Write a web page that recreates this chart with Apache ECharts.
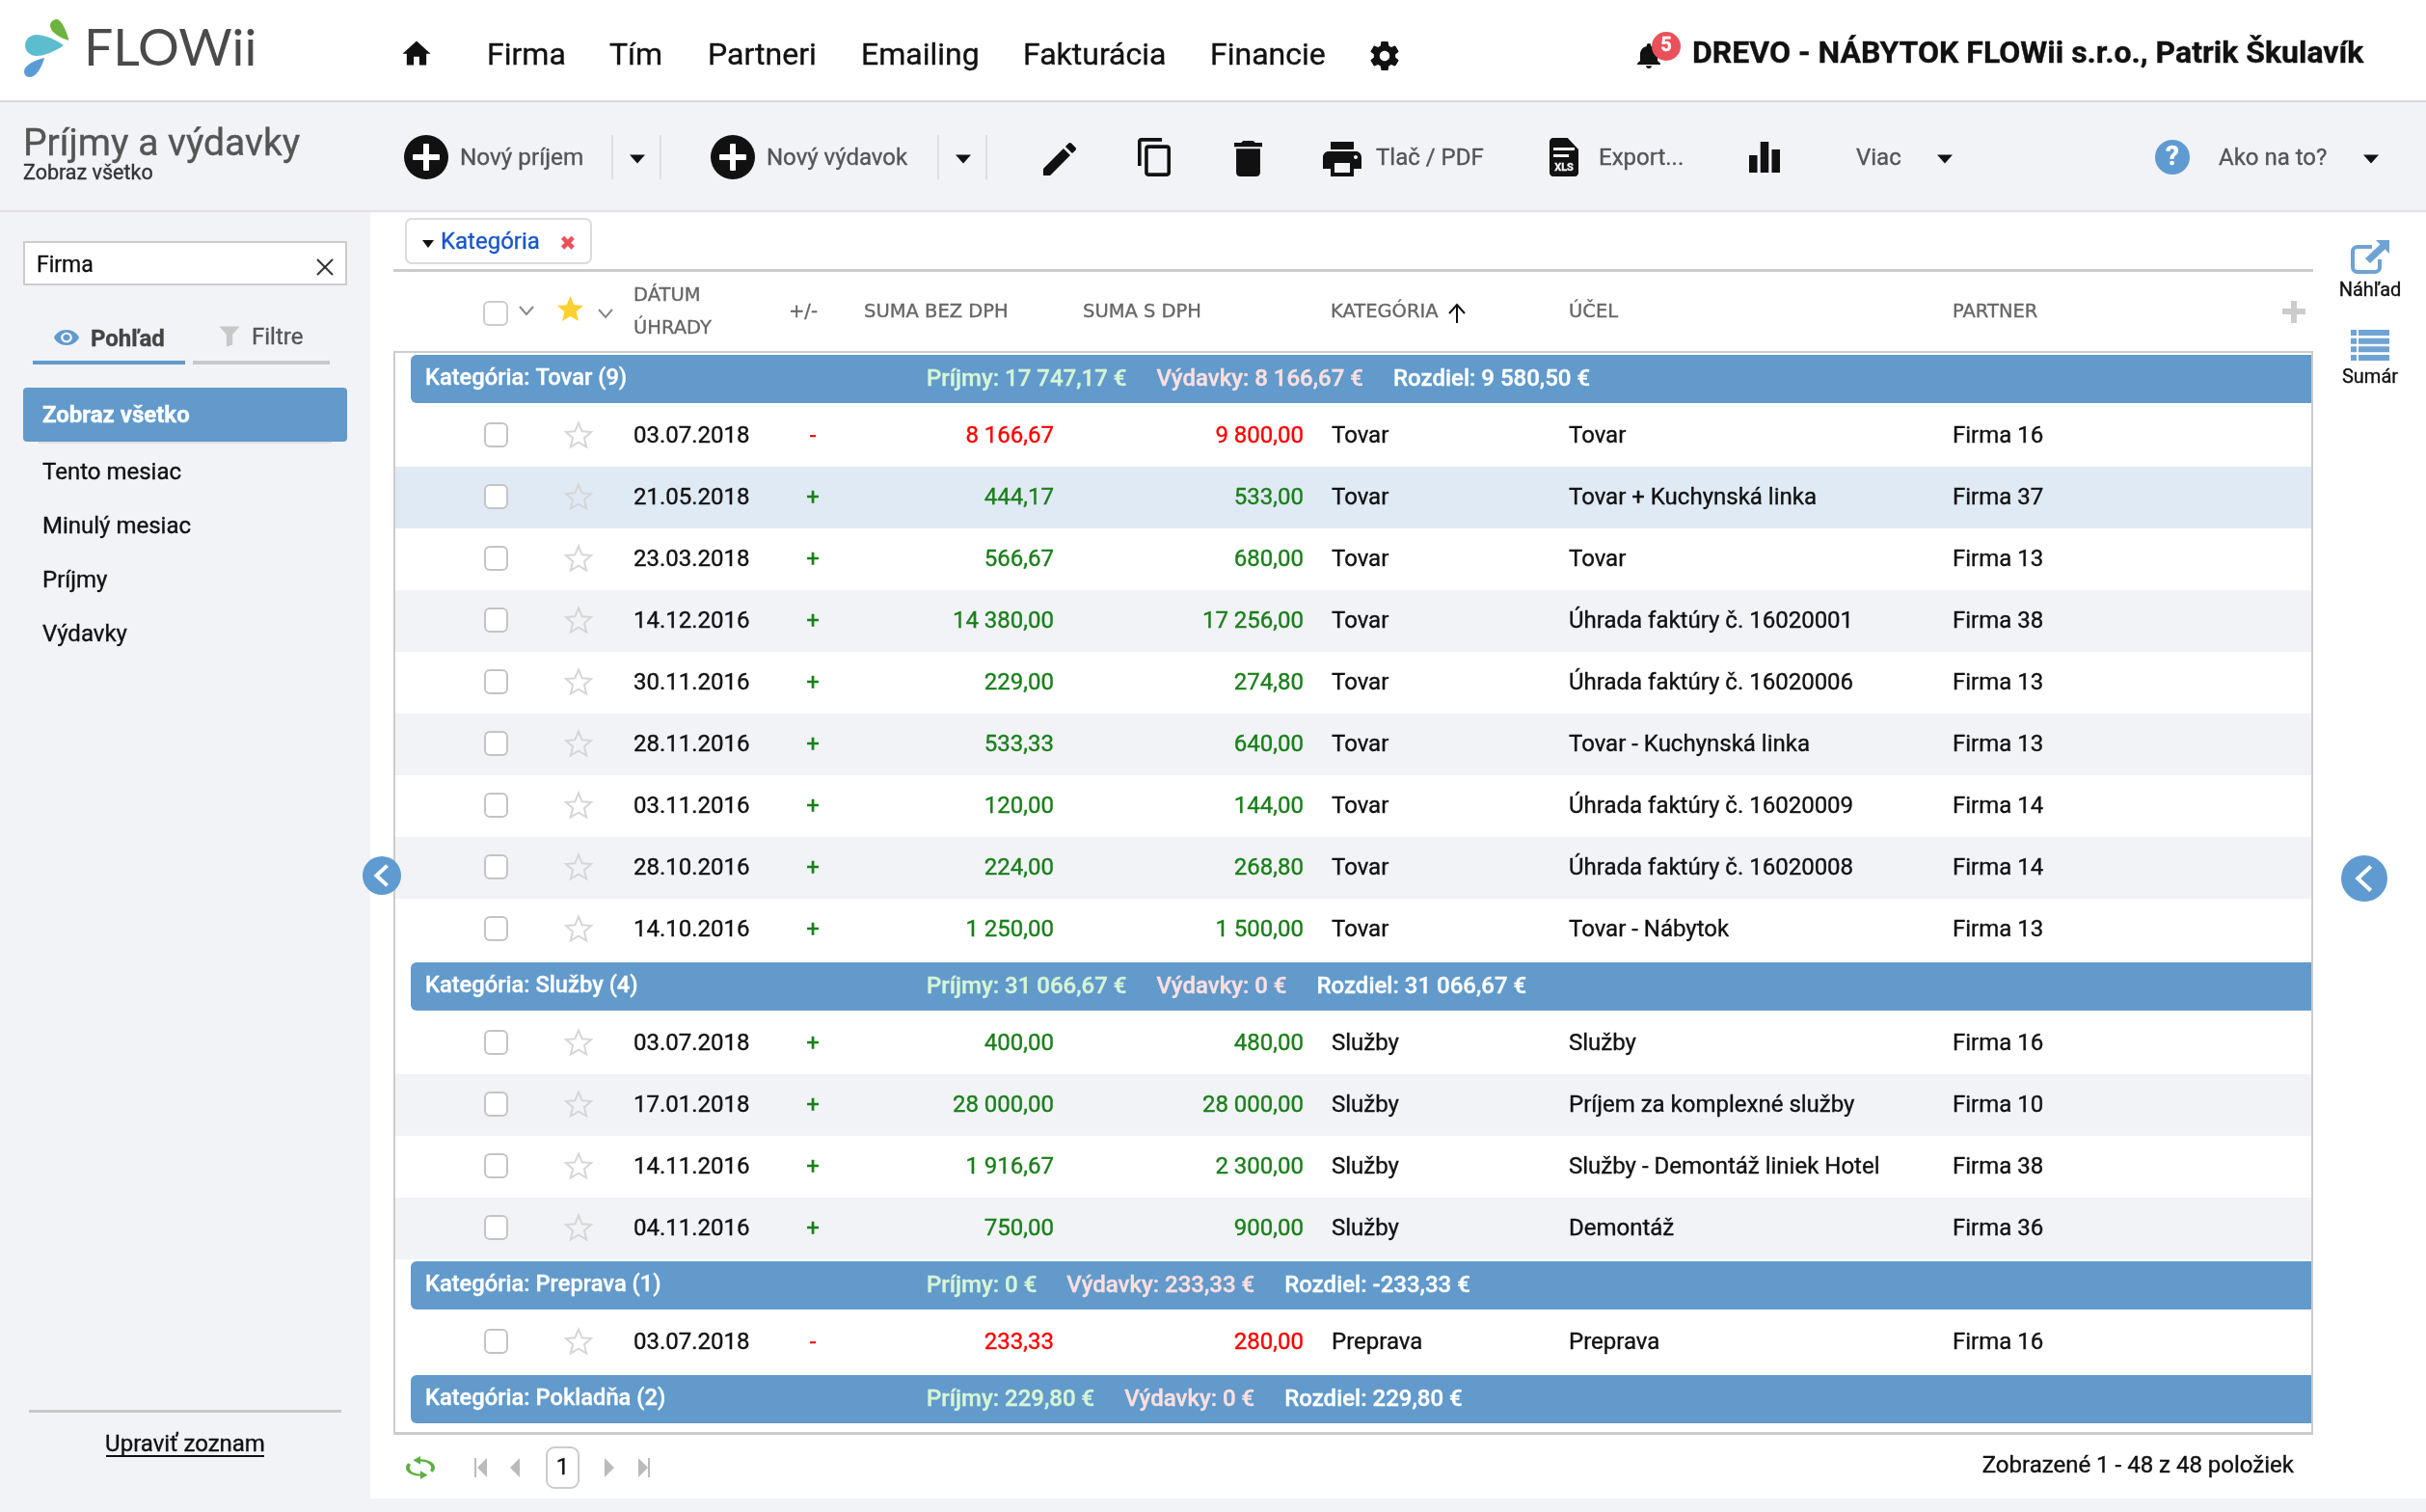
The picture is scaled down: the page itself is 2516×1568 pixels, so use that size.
<!DOCTYPE html>
<html>
<head>
<meta charset="utf-8">
<title>Príjmy a výdavky</title>
<script src="https://cdn.jsdelivr.net/npm/echarts@6/dist/echarts.min.js"></script>
<style>
    html, body { margin: 0; padding: 0; background: #fff; }
    #main { width: 2516px; height: 1568px; }
</style>
</head>
<body>
<div id="main"></div>
<script>
// table data
const groupNames = ['Tovar', 'Služby', 'Preprava', 'Pokladňa'];
const groupCounts = [9, 4, 1, 2];
const groupShown = [9, 4, 1, 0];
const groupIncome = ['17 747,17 €', '31 066,67 €', '0 €', '229,80 €'];
const groupExpense = ['8 166,67 €', '0 €', '233,33 €', '0 €'];
const groupDiff = ['9 580,50 €', '31 066,67 €', '-233,33 €', '229,80 €'];

const dates = ['03.07.2018', '21.05.2018', '23.03.2018', '14.12.2016', '30.11.2016', '28.11.2016', '03.11.2016', '28.10.2016', '14.10.2016',
    '03.07.2018', '17.01.2018', '14.11.2016', '04.11.2016',
    '03.07.2018'];
const signs = ['-', '+', '+', '+', '+', '+', '+', '+', '+', '+', '+', '+', '+', '-'];
const netSums = ['8 166,67', '444,17', '566,67', '14 380,00', '229,00', '533,33', '120,00', '224,00', '1 250,00',
    '400,00', '28 000,00', '1 916,67', '750,00',
    '233,33'];
const grossSums = ['9 800,00', '533,00', '680,00', '17 256,00', '274,80', '640,00', '144,00', '268,80', '1 500,00',
    '480,00', '28 000,00', '2 300,00', '900,00',
    '280,00'];
const categories = ['Tovar', 'Tovar', 'Tovar', 'Tovar', 'Tovar', 'Tovar', 'Tovar', 'Tovar', 'Tovar',
    'Služby', 'Služby', 'Služby', 'Služby',
    'Preprava'];
const purposes = ['Tovar', 'Tovar + Kuchynská linka', 'Tovar', 'Úhrada faktúry č. 16020001', 'Úhrada faktúry č. 16020006', 'Tovar - Kuchynská linka', 'Úhrada faktúry č. 16020009', 'Úhrada faktúry č. 16020008', 'Tovar - Nábytok',
    'Služby', 'Príjem za komplexné služby', 'Služby - Demontáž liniek Hotel', 'Demontáž',
    'Preprava'];
const partners = ['Firma 16', 'Firma 37', 'Firma 13', 'Firma 38', 'Firma 13', 'Firma 13', 'Firma 14', 'Firma 14', 'Firma 13',
    'Firma 16', 'Firma 10', 'Firma 38', 'Firma 36',
    'Firma 16'];
const hoverRow = 1;

const navItems = ['Firma', 'Tím', 'Partneri', 'Emailing', 'Fakturácia', 'Financie'];
const navX = [505, 632, 734, 893, 1061, 1255];
const sideItems = ['Tento mesiac', 'Minulý mesiac', 'Príjmy', 'Výdavky'];

const BLUE = '#619ACB';
const GREY_BG = '#F1F3F7';
const LINE = '#CCCCCC';
const GREEN = '#197F19';
const RED = '#FF0000';
const ROW_H = 64;
const HEAD_H = 50;
const TEXT_DY = 4;
const TEXT_WEIGHT = 0.35; // the reference text is smoothed a bit heavier

const P = {
    home: 'M10 20v-6h4v6h5v-8h3L12 3 2 12h3v8z',
    gear: 'M19.43 12.98c.04-.32.07-.64.07-.98s-.03-.66-.07-.98l2.11-1.65c.19-.15.24-.42.12-.64l-2-3.46c-.12-.22-.39-.3-.61-.22l-2.49 1c-.52-.4-1.08-.73-1.69-.98l-.38-2.65C14.46 2.18 14.25 2 14 2h-4c-.25 0-.46.18-.49.42l-.38 2.65c-.61.25-1.17.59-1.69.98l-2.49-1c-.23-.09-.49 0-.61.22l-2 3.46c-.13.22-.07.49.12.64l2.11 1.65c-.04.32-.07.65-.07.98s.03.66.07.98l-2.11 1.65c-.19.15-.24.42-.12.64l2 3.46c.12.22.39.3.61.22l2.49-1c.52.4 1.08.73 1.69.98l.38 2.65c.03.24.24.42.49.42h4c.25 0 .46-.18.49-.42l.38-2.65c.61-.25 1.17-.59 1.69-.98l2.49 1c.23.09.49 0 .61-.22l2-3.46c.12-.22.07-.49-.12-.64l-2.11-1.65zM12 15.5c-1.93 0-3.5-1.57-3.5-3.5s1.57-3.5 3.5-3.5 3.5 1.57 3.5 3.5-1.57 3.5-3.5 3.5z',
    pencil: 'M3 17.25V21h3.75L17.81 9.94l-3.75-3.75L3 17.25zM20.71 7.04c.39-.39.39-1.02 0-1.41l-2.34-2.34c-.39-.39-1.02-.39-1.41 0l-1.83 1.83 3.75 3.75 1.83-1.83z',
    copy: 'M16 1H4c-1.1 0-2 .9-2 2v14h2V3h12V1zm3 4H8c-1.1 0-2 .9-2 2v14c0 1.1.9 2 2 2h11c1.1 0 2-.9 2-2V7c0-1.1-.9-2-2-2zm0 16H8V7h11v14z',
    trash: 'M6 19c0 1.1.9 2 2 2h8c1.1 0 2-.9 2-2V7H6v12zM19 4h-3.5l-1-1h-5l-1 1H5v2h14V4z',
    print: 'M19 8H5c-1.66 0-3 1.34-3 3v6h4v4h12v-4h4v-6c0-1.66-1.34-3-3-3zm-3 11H8v-5h8v5zm3-7c-.55 0-1-.45-1-1s.45-1 1-1 1 .45 1 1-.45 1-1 1zm-1-9H6v4h12V3z',
    bars: 'M5 10h4v9H5zM10.500 3h4v16h-4zM16 7h4v12h-4z',
    bell: 'M12 22c1.1 0 2-.9 2-2h-4c0 1.1.9 2 2 2zm6-6v-5c0-3.07-1.64-5.64-4.5-6.32V4c0-.83-.67-1.5-1.5-1.5s-1.5.67-1.5 1.5v.68C7.63 5.36 6 7.92 6 11v5l-2 2v1h16v-1l-2-2z',
    star: 'M12 2l3 7 7.500.6-5.700 4.900 1.800 7.400L12 18l-6.600 3.900 1.800-7.400L1.500 9.600 9 9z',
    eye: 'M12 4.500C7 4.500 2.730 7.610 1 12c1.730 4.390 6 7.500 11 7.500s9.270-3.110 11-7.500c-1.730-4.390-6-7.500-11-7.500zM12 17c-2.760 0-5-2.240-5-5s2.240-5 5-5 5 2.240 5 5-2.240 5-5 5zm0-8c-1.660 0-3 1.340-3 3s1.340 3 3 3 3-1.340 3-3-1.340-3-3-3z',
    funnel: 'M2 3h20l-7 8v10l-6 2V11z',
    sync: 'M12 4V1L8 5l4 4V6c3.310 0 6 2.690 6 6 0 1.010-.250 1.970-.700 2.800l1.460 1.460C19.540 15.030 20 13.570 20 12c0-4.420-3.580-8-8-8zm0 14c-3.310 0-6-2.690-6-6 0-1.010.250-1.970.700-2.800L5.240 7.740C4.460 8.970 4 10.430 4 12c0 4.420 3.580 8 8 8v3l4-4-4-4v3z',
    file: 'M14 2H6c-1.100 0-2 .900-2 2v16c0 1.100.900 2 2 2h12c1.100 0 2-.900 2-2V8l-6-6z',
    list: 'M0 0h6v6H0zM8 0h32v6H8zM0 8.500h6v6H0zM8 8.500h32v6H8zM0 17h6v6H0zM8 17h32v6H8zM0 25.500h6v6H0zM8 25.500h32v6H8z',
    share: 'M22 5H7C3 5 0 8 0 12V28C0 32 3 35 7 35H25C29 35 32 32 32 28V20H28V28C28 30 27 31 25 31H7C5 31 4 30 4 28V12C4 10 5 9 7 9H22zM26 0H40V14L35.500 9.500 20 24 15 19 30.500 4.500z',
    dropGreen: 'M71.500 42C62 39 53 34 52 27C52 22 56 20 59 20C64 21 69 32 71.500 42z',
    dropTeal: 'M66 47C58 53 46 58 38 58C30 58 26 52 26 47C26 41 31 36 38 36C46 36 58 41 66 47z',
    dropBlue: 'M46 60C44 68 38 80 31 80C27 80 25 77 25 74C25 68 36 62 46 60z'
};

function font(size, weight) {
    return (weight || 400) + ' ' + size + 'px Roboto, sans-serif';
}
function text(str, x, y, size, color, opt) {
    opt = opt || {};
    return {
        type: 'text',
        style: {
            text: str, x: x, y: y + TEXT_DY,
            font: opt.font || font(size, opt.weight),
            fill: color,
            stroke: color,
            lineWidth: TEXT_WEIGHT,
            align: opt.align || 'left',
            verticalAlign: 'middle'
        }
    };
}
function rect(x, y, w, h, fill, r, stroke, lw) {
    return {
        type: 'rect',
        shape: {x: x, y: y, width: w, height: h, r: r || 0},
        style: {fill: fill, stroke: stroke || null, lineWidth: lw || 0}
    };
}
function icon(d, cx, cy, w, h, color, stroke) {
    return {
        type: 'path',
        shape: {pathData: d, x: cx - w / 2, y: cy - h / 2, width: w, height: h, layout: 'cover'},
        style: stroke ? {fill: color, stroke: stroke, lineWidth: 2} : {fill: color}
    };
}
function tri(cx, cy, w, h, color) {
    return {
        type: 'polygon',
        shape: {points: [[cx - w / 2, cy - h / 2], [cx + w / 2, cy - h / 2], [cx, cy + h / 2]]},
        style: {fill: color}
    };
}
function chevron(cx, cy, color) {
    return {
        type: 'polyline',
        shape: {points: [[cx - 7, cy - 4], [cx, cy + 4], [cx + 7, cy - 4]]},
        style: {fill: null, stroke: color, lineWidth: 2}
    };
}
function arrowButton(cx, cy, r) {
    return [
        {type: 'circle', shape: {cx: cx, cy: cy, r: r}, style: {fill: '#5F9BD1'}},
        {
            type: 'polyline',
            shape: {points: [[cx + r * 0.28, cy - r * 0.52], [cx - r * 0.28, cy], [cx + r * 0.28, cy + r * 0.52]]},
            style: {fill: null, stroke: '#fff', lineWidth: 4}
        }
    ];
}
function plusButton(cx, cy) {
    return [
        {type: 'circle', shape: {cx: cx, cy: cy, r: 23}, style: {fill: '#111'}},
        rect(cx - 14, cy - 3, 28, 6, '#fff', 1),
        rect(cx - 3, cy - 14, 6, 28, '#fff', 1)
    ];
}

function renderChrome() {
    let c = [
        rect(0, 106, 2516, 112, GREY_BG),
        rect(0, 104, 2516, 2, '#D8D8D8'),
        rect(0, 218, 2516, 2, '#E6DFE2'),
        rect(0, 220, 384, 1348, GREY_BG),
        rect(384, 1554, 2132, 14, GREY_BG),

        // logo
        icon(P.dropGreen, 61.750, 31, 19.500, 22, '#6CB33F'),
        icon(P.dropTeal, 46, 47, 40, 22, '#5DBDCF'),
        icon(P.dropBlue, 35.500, 70, 21, 20, '#5B9BD5'),
        {
            type: 'text',
            x: 87,
            y: 51,
            scaleX: 1.03,
            style: {text: 'FLOWii', x: 0, y: 0, font: '400 52px Lato, sans-serif', fill: '#4A4A4A', align: 'left', verticalAlign: 'middle'}
        },

        // top menu
        icon(P.home, 432, 55, 29, 25, '#111'),
        icon(P.gear, 1436, 58, 29, 30, '#111'),
        icon(P.bell, 1710, 58, 24, 26, '#111'),
        {type: 'circle', shape: {cx: 1728, cy: 48, r: 15}, style: {fill: '#E8515A'}},
        text('5', 1728, 43.500, 20, '#fff', {align: 'center', weight: 700}),
        text('DREVO - NÁBYTOK FLOWii s.r.o., Patrik Škulavík', 1755, 52.500, 32, '#111', {weight: 700}),

        // toolbar
        text('Príjmy a výdavky', 24, 147.500, 39, '#555'),
        text('Zobraz všetko', 24, 177, 21.5, '#333'),
        text('Nový príjem', 477, 161, 24.3, '#555'),
        text('Nový výdavok', 795, 161, 24, '#555'),
        rect(634, 140, 2, 46, '#DEDFE2'), rect(684, 140, 2, 46, '#DEDFE2'),
        rect(972, 140, 2, 46, '#DEDFE2'), rect(1022, 140, 2, 46, '#DEDFE2'),
        tri(661, 165, 16, 9, '#111'), tri(999, 165, 16, 9, '#111'),
        icon(P.pencil, 1099, 165, 34, 34, '#111'),
        icon(P.copy, 1197, 163, 34, 40, '#111'),
        icon(P.trash, 1294.5, 164.500, 29, 37, '#111'),
        icon(P.print, 1392, 165, 40, 36, '#111'),
        text('Tlač / PDF', 1427, 161, 24, '#555'),
        icon(P.file, 1622, 163, 30, 40, '#111'),
        rect(1611, 153, 22, 3, GREY_BG), rect(1611, 160, 16, 3, GREY_BG),
        text('XLS', 1622, 170.500, 11, GREY_BG, {align: 'center', weight: 700}),
        text('Export...', 1658, 161, 24, '#555'),
        icon(P.bars, 1830, 163, 32, 32, '#111'),
        text('Viac', 1925, 161, 24, '#555'),
        tri(2017, 165, 16, 9, '#111'),
        {type: 'circle', shape: {cx: 2253, cy: 163, r: 18}, style: {fill: '#5F9BD1'}},
        text('?', 2253, 159.500, 28, '#fff', {align: 'center', weight: 700}),
        text('Ako na to?', 2301, 161, 24, '#555'),
        tri(2459, 165, 16, 9, '#111'),

        // sidebar
        rect(25, 251, 334, 44, '#fff', 0, LINE, 2),
        text('Firma', 38, 272, 23, '#111'),
        {type: 'line', shape: {x1: 329, y1: 269, x2: 345, y2: 285}, style: {stroke: '#333', lineWidth: 2}},
        {type: 'line', shape: {x1: 345, y1: 269, x2: 329, y2: 285}, style: {stroke: '#333', lineWidth: 2}},
        icon(P.eye, 69, 350, 26, 16, BLUE),
        text('Pohľad', 94, 349, 24, '#444', {weight: 700}),
        icon(P.funnel, 238, 349, 21, 21, '#C8C8C8'),
        text('Filtre', 261, 347, 24, '#555'),
        rect(34, 374, 158, 4, BLUE),
        rect(200, 374, 142, 4, '#C8C8C8'),
        rect(40, 458, 304, 2, '#DDDFE3'),
        rect(24, 402, 336, 56, BLUE, 4),
        text('Zobraz všetko', 44, 427.500, 24, '#fff', {weight: 700}),
        rect(30, 1462, 324, 3, '#C8C8C8'),
        text('Upraviť zoznam', 192, 1494.500, 24, '#111', {align: 'center'}),
        rect(110, 1509, 164, 2, '#111'),

        // filter chip
        rect(421, 227, 192, 46, '#fff', 6, '#DCDCDC', 2),
        tri(444, 253, 12, 8, '#111'),
        text('Kategória', 457, 248, 24, '#1A55CC'),
        text('✖', 589, 250, 20, '#E8515A', {align: 'center', font: '700 20px "DejaVu Sans"'}),

        // column headers
        rect(408, 279, 1991, 3, LINE),
        rect(408, 364, 1991, 2, LINE),
        rect(408, 364, 2, 1123, LINE),
        rect(2397, 364, 2, 1123, LINE),
        rect(408, 1485, 1991, 3, LINE),
        rect(502, 313, 24, 24, '#fff', 5, LINE, 2),
        chevron(546, 322, '#888'),
        icon(P.star, 591.500, 320, 27, 26, '#FFD02F'),
        chevron(628, 325, '#888'),
        rect(2367, 320, 24, 6, LINE),
        rect(2376, 312, 6, 23, LINE),
        {type: 'line', shape: {x1: 1511, y1: 317, x2: 1511, y2: 335}, style: {stroke: '#111', lineWidth: 2}},
        {type: 'polyline', shape: {points: [[1503, 325], [1511, 316], [1519, 325]]}, style: {fill: null, stroke: '#111', lineWidth: 2}},

        // right rail
        icon(P.share, 2458, 266.500, 40, 35, '#6FA3D3'),
        text('Náhľad', 2458, 297.500, 20, '#111', {align: 'center'}),
        icon(P.list, 2458, 358, 40, 32, '#6FA3D3'),
        text('Sumár', 2458, 387.500, 20, '#111', {align: 'center'}),

        // pager
        icon(P.sync, 436, 1522, 30, 24, '#5CB040'),
        rect(492, 1512, 2, 20, '#BBB'),
        {type: 'polygon', shape: {points: [[505, 1512], [505, 1532], [495, 1522]]}, style: {fill: '#BBB'}},
        {type: 'polygon', shape: {points: [[539, 1512], [539, 1532], [529, 1522]]}, style: {fill: '#BBB'}},
        rect(567, 1501, 33, 42, '#fff', 8, LINE, 2),
        text('1', 583.500, 1518.500, 24, '#111', {align: 'center'}),
        {type: 'polygon', shape: {points: [[627, 1512], [627, 1532], [637, 1522]]}, style: {fill: '#BBB'}},
        {type: 'polygon', shape: {points: [[662, 1512], [662, 1532], [672, 1522]]}, style: {fill: '#BBB'}},
        rect(672, 1512, 2, 20, '#BBB'),
        text('Zobrazené 1 - 48 z 48 položiek', 2379, 1517, 24, '#111', {align: 'right'})
    ];
    for (let i = 0; i < navItems.length; i++) {
        c.push(text(navItems[i], navX[i], 54.500, 32, '#111'));
    }
    for (let i = 0; i < sideItems.length; i++) {
        c.push(text(sideItems[i], 44, 487 + i * 56, 24, '#111'));
    }
    const heads = [['DÁTUM', 657, 303], ['ÚHRADY', 657, 337], ['+/-', 818, 320], ['SUMA BEZ DPH', 896, 320], ['SUMA S DPH', 1123, 320], ['KATEGÓRIA', 1380, 320], ['ÚČEL', 1627, 320], ['PARTNER', 2025, 320]];
    heads.forEach(function (h) {
        c.push(text(h[0], h[1], h[2], 19.5, '#666', {font: '400 19.5px "DejaVu Sans", sans-serif'}));
    });
    c = c.concat(plusButton(442, 163), plusButton(760, 163));
    return {type: 'group', children: c};
}

function renderOverlay() {
    return {type: 'group', children: arrowButton(396, 908, 20).concat(arrowButton(2452, 911, 24))};
}

function renderRow(params, api) {
    const i = api.value(0);
    const top = api.value(1);
    const a = api.coord([410, top]);
    const b = api.coord([2397, top + ROW_H]);
    const y = (a[1] + b[1]) / 2 - 1;
    const indexInGroup = api.value(2);
    const col = function (x) { return api.coord([x, top])[0]; };
    const color = signs[i] === '-' ? RED : GREEN;
    const ty = y - 2.5;
    let fill = indexInGroup % 2 ? GREY_BG : '#fff';
    if (i === hoverRow) {
        fill = '#E0EAF5';
    }
    return {
        type: 'group',
        children: [
            rect(a[0], a[1], b[0] - a[0], b[1] - a[1], fill),
            rect(col(503), y - 12, 23, 24, '#fff', 5, '#C4C4C4', 2),
            icon(P.star, col(600), y, 26, 25, 'rgba(0,0,0,0)', '#D6D6D6'),
            text(dates[i], col(657), ty, 24, '#111'),
            text(signs[i], col(843), ty, 24, color, {align: 'center'}),
            text(netSums[i], col(1093), ty, 24, color, {align: 'right'}),
            text(grossSums[i], col(1352), ty, 24, color, {align: 'right'}),
            text(categories[i], col(1381), ty, 24, '#111'),
            text(purposes[i], col(1627), ty, 24, '#111'),
            text(partners[i], col(2025), ty, 24, '#111')
        ]
    };
}

function renderGroupHead(params, api) {
    const i = api.value(0);
    const top = api.value(1);
    const a = api.coord([426, top]);
    const b = api.coord([2397, top + HEAD_H]);
    const y = (a[1] + b[1]) / 2 - 2.5;
    const sumStyle = function (color) {
        return {fill: color, stroke: color, lineWidth: TEXT_WEIGHT, font: font(24, 500)};
    };
    return {
        type: 'group',
        children: [
            rect(a[0], a[1], b[0] - a[0], b[1] - a[1], BLUE, [6, 0, 0, 6]),
            text('Kategória: ' + groupNames[i] + ' (' + groupCounts[i] + ')', a[0] + 15, y - 1, 23.7, '#fff', {weight: 500}),
            {
                type: 'text',
                style: {
                    text: '{inc|Príjmy: ' + groupIncome[i] + '}{gap| }{exp|Výdavky: ' + groupExpense[i] + '}{gap| }{dif|Rozdiel: ' + groupDiff[i] + '}',
                    x: api.coord([961, top])[0],
                    y: y - 1 + TEXT_DY,
                    verticalAlign: 'middle',
                    rich: {
                        inc: sumStyle('#D6F5D6'),
                        exp: sumStyle('#FFDFDF'),
                        dif: sumStyle('#FFFFFF'),
                        gap: {width: 31, font: font(24, 500)}
                    }
                }
            }
        ]
    };
}

// stack group heads and rows from top to bottom
const headData = [];
const rowData = [];
let cursor = 368;
let rowIndex = 0;
for (let g = 0; g < groupNames.length; g++) {
    headData.push([g, cursor]);
    cursor += HEAD_H + 2;
    for (let r = 0; r < groupShown[g]; r++) {
        rowData.push([rowIndex, cursor, r]);
        rowIndex++;
        cursor += ROW_H;
    }
    cursor += 2;
}

const myChart = echarts.init(document.getElementById('main'));
const option = {
    animation: false,
    backgroundColor: '#fff',
    grid: {left: 0, right: 0, top: 0, bottom: 0},
    xAxis: {type: 'value', min: 0, max: 2516, show: false},
    yAxis: {type: 'value', min: 0, max: 1568, inverse: true, show: false},
    tooltip: {show: false},
    series: [
        {type: 'custom', z: 1, silent: true, clip: false, coordinateSystem: 'cartesian2d', data: [[0, 0]], renderItem: renderChrome},
        {type: 'custom', z: 2, silent: true, clip: false, coordinateSystem: 'cartesian2d', data: rowData, renderItem: renderRow},
        {type: 'custom', z: 3, silent: true, clip: false, coordinateSystem: 'cartesian2d', data: headData, renderItem: renderGroupHead},
        {type: 'custom', z: 4, silent: true, clip: false, coordinateSystem: 'cartesian2d', data: [[0, 0]], renderItem: renderOverlay}
    ]
};
myChart.setOption(option);
</script>
</body>
</html>
